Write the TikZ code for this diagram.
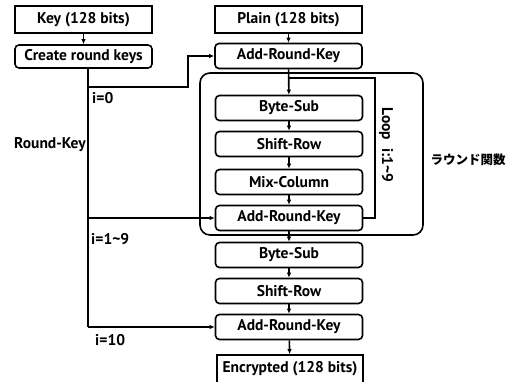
\documentclass[tikz,border=0pt]{standalone}
\usepackage{fontspec}
\setmainfont{PT Sans}
\newfontfamily\jpfont{Noto Sans CJK JP}
\usetikzlibrary{arrows.meta}
\begin{document}
\begin{tikzpicture}[x=1pt,y=-1pt,
  every node/.style={font=\bfseries\fontsize{15.5}{17}\selectfont},
  sbox/.style={draw,line width=1.6pt,minimum width=137pt,minimum height=25pt,inner sep=0pt},
  rbox/.style={draw,line width=1.6pt,rounded corners=4pt,minimum width=147pt,minimum height=25pt,inner sep=0pt},
  conn/.style={line width=1.6pt},
  arr/.style={conn,-{Latex[length=5pt,width=4.5pt]}},
  lbl/.style={inner sep=0pt}]
\useasboundingbox (0,0) rectangle (511,382);
\node[sbox,minimum height=27pt] (key) at (83.5,19.5) {Key (128 bits)};
\node[rbox,minimum width=137pt,minimum height=23pt] (crk) at (83.5,56.5) {Create round keys};
\node[sbox,minimum width=147pt,minimum height=27pt] (plain) at (288.5,19.5) {Plain (128 bits)};
\node[rbox] (ark0) at (288.5,56) {Add-Round-Key};
\draw[line width=1.6pt,rounded corners=10pt] (200,73) rectangle (423,235);
\node[rbox] (bs1) at (289,108) {Byte-Sub};
\node[rbox] (sr1) at (289,144) {Shift-Row};
\node[rbox] (mc) at (289,182) {Mix-Column};
\node[rbox] (ark1) at (289,218) {Add-Round-Key};
\node[rbox] (bs2) at (289,255) {Byte-Sub};
\node[rbox] (sr2) at (289,291) {Shift-Row};
\node[rbox] (ark2) at (289,327) {Add-Round-Key};
\node[sbox,minimum width=146pt,minimum height=28pt] (enc) at (290,369) {Encrypted (128 bits)};
% vertical flow
\draw[arr] (key) -- (crk);
\draw[arr] (plain) -- (ark0);
\draw[arr] (ark0) -- (bs1);
\draw[arr] (bs1) -- (sr1);
\draw[arr] (sr1) -- (mc);
\draw[arr] (mc) -- (ark1);
\draw[arr] (ark1) -- (bs2);
\draw[arr] (bs2) -- (sr2);
\draw[arr] (sr2) -- (ark2);
\draw[arr] (ark2) -- (enc);
% loop
\coordinate (lp) at (289,78);
\draw[conn] (ark1.east) -- (375,218) -- (375,78) -- (lp);
% key lines
\coordinate (k0) at (88,87);
\coordinate (k1) at (88,218);
\coordinate (k10) at (88,327);
\draw[conn] (crk.south -| k0) -- (k10);
\draw[arr] (k0) -- (188,87) -- (188,56) -- (ark0.west);
\draw[arr] (k1) -- (ark1.west);
\draw[arr] (k10) -- (ark2.west);
% labels
\node[lbl,anchor=east] (rk) at (86,145) {Round-Key};
\node[lbl,anchor=west] (l0) at (92,98) {i=0};
\node[lbl,anchor=west] (l1) at (91,239) {i=1\char`\~9};
\node[lbl,anchor=west] (l10) at (95,340) {i=10};
\node[lbl,rotate=-90] (loop) at (386,145) {Loop\ \ i:1\char`\~9};
\node[lbl,font=\jpfont\bfseries\fontsize{12.5}{14}\selectfont] (rf) at (468,160) {ラウンド関数};
\end{tikzpicture}
\end{document}
